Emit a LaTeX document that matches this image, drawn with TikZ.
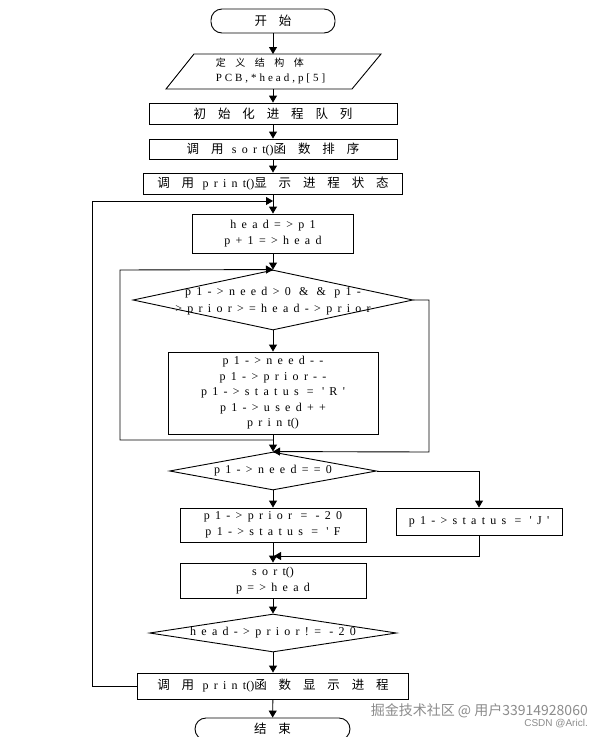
\documentclass[tikz,border=0pt]{standalone}
\usepackage{fontspec}
\setmainfont{Liberation Serif}[LetterSpace=44,Ligatures=TeXOff]
\newfontfamily\cjk{Noto Sans CJK SC}[LetterSpace=95]
\newfontfamily\tight{Liberation Serif}
\newfontfamily\pcb{Liberation Serif}[LetterSpace=27]
\newfontfamily\wmcjk{Noto Sans CJK SC}
\newfontfamily\wmlat{Liberation Sans}
\newcommand{\sq}{'}
\newcommand{\cj}[1]{{\cjk\fontsize{12.5}{16}\selectfont #1}}
\newcommand{\pp}{{\tight()}}
\usetikzlibrary{arrows.meta,shapes.geometric}
\begin{document}
\begin{tikzpicture}[x=1pt,y=-1pt,
  every node/.style={font=\fontsize{12}{16.5}\selectfont},
  box/.style={draw,rectangle,inner sep=0pt,align=center,line width=0.9pt},
  term/.style={draw,rectangle,rounded corners=11pt,inner sep=0pt,line width=0.9pt},
  dia/.style={draw,diamond,inner sep=0pt,line width=0.9pt},
  arr/.style={line width=0.9pt,-{Triangle[length=7pt,width=8pt]}},
  ln/.style={line width=0.9pt}]
\path[use as bounding box] (0,0) rectangle (606,737);
\clip (0,0) rectangle (606,737);
\fill[white] (0,0) rectangle (606,737);
% nodes
\node[term,minimum width=124pt,minimum height=24pt] (st) at (273,21) {\cj{开始}};
\node[inner sep=0pt,align=left] (pa) at (270.5,71)
  {{\cjk\fontsize{10}{15}\selectfont 定义结构体}\\[-1pt]{\pcb\fontsize{11}{15}\selectfont PCB,*head,p[5]}};
\draw[ln] (194,54) -- (381,54) -- (352,89) -- (166,89) -- cycle;
\coordinate (pat) at (273,54);
\coordinate (pab) at (273,89);
\node[box,minimum width=248pt,minimum height=21pt] (b1) at (273,113.5) {\cj{初始化进程队列}};
\node[box,minimum width=248pt,minimum height=20pt] (b2) at (273,149) {\cj{调用}\ sort\pp\cj{函数排序}};
\node[box,minimum width=259pt,minimum height=21pt] (b3) at (273,183.5) {\cj{调用}\ print\pp\cj{显示进程状态}};
\node[box,minimum width=161pt,minimum height=39pt] (hb) at (273,233.5) {head=>p1\\p+1=>head};
\node[dia,minimum width=280pt,minimum height=60pt] (d1) at (273,300) {};
\node[align=center] (d1t) at (273,301) {p1->need>0 \& \& p1-\\>prior>=head->prior};
\node[box,minimum width=210pt,minimum height=82pt,font=\fontsize{12}{15.5}\selectfont] (ib) at (273,393)
  {p1->need-{}-\\p1->prior-{}-\\p1->status = \sq R\sq\\p1->used++\\print\pp};
\node[dia,minimum width=207pt,minimum height=38pt] (d2) at (273,471) {};
\node (d2t) at (273,471) {p1->need==0};
\node[box,minimum width=186pt,minimum height=34pt] (bf) at (273,525) {p1->prior = -20\\p1->status = \sq F};
\node[box,minimum width=166pt,minimum height=27pt] (bj) at (479,521.5) {p1->status = \sq J\sq};
\node[box,minimum width=186pt,minimum height=35pt] (so) at (273,580.5) {sort\pp\\p=>head};
\node[dia,minimum width=247pt,minimum height=38pt] (d3) at (273,633) {};
\node (d3t) at (273,633) {head->prior!= -20};
\node[box,minimum width=271pt,minimum height=26pt] (pr) at (273,686) {\cj{调用}\ print\pp\cj{函数显示进程}};
\node[term,minimum width=155pt,minimum height=22pt] (en) at (272.5,729) {\cj{结束}};
% junction coordinates
\coordinate (j0) at (273,201);
\coordinate (lx) at (92,201);
\coordinate (j1) at (273,440);
\coordinate (ilx) at (120,270);
\coordinate (rx) at (429,452);
\coordinate (j3) at (274,556);
% connectors
\draw[arr] (st) -- (pat);
\draw[arr] (pab) -- (b1);
\draw[arr] (b1) -- (b2);
\draw[arr] (b2) -- (b3);
\draw[arr] (b3) -- (hb);
\draw[arr] (pr.west) -| (lx) -- (j0);
\draw[arr] (hb) -- (d1);
\draw[arr] (d1) -- (ib);
\draw[arr] (j1) -| (ilx) -- (d1.north);
\draw[arr] (ib) -- (d2);
\draw[arr] (d1.east) -| (rx) -- (d2.north);
\draw[arr] (d2.east) -| (bj);
\draw[arr] (d2) -- (bf);
\draw[arr] (bf) -- (so);
\draw[arr] (bj) |- (j3);
\draw[arr] (so) -- (d3);
\draw[arr] (d3) -- (pr);
\draw[arr] (pr) -- (en);
% watermark
\node[anchor=east,text=black!45,inner sep=0pt,font=\wmcjk\fontsize{14}{14}\selectfont] (wm1) at (588,711) {掘金技术社区 @ 用户33914928060};
\node[anchor=east,text=black!45,inner sep=0pt,font=\wmlat\fontsize{10}{10}\selectfont] (wm2) at (588,724) {CSDN @Aricl.};
\end{tikzpicture}
\end{document}
